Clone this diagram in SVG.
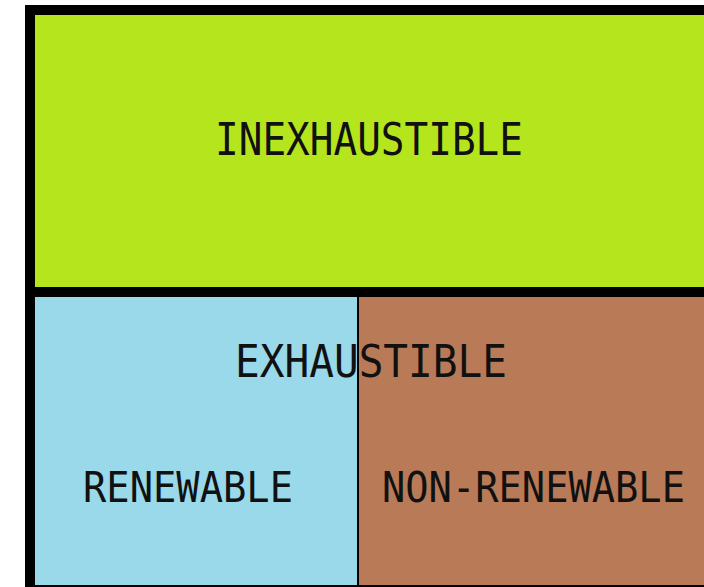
<svg xmlns="http://www.w3.org/2000/svg" width="704" height="587" viewBox="0 0 704 587">
<style>
.lbl{font-family:"DejaVu Sans Mono","Liberation Mono",monospace;fill:#111;text-anchor:start;}
</style>
<rect width="704" height="587" fill="#ffffff"/>
<g id="frame">
<rect x="25" y="5" width="679" height="582" fill="#000"/>
</g>
<g id="inexhaustible">
<rect x="35" y="15" width="669" height="272" fill="#b5e61d"/>
<text class="lbl" x="215" y="155" font-size="45" textLength="308" lengthAdjust="spacingAndGlyphs">INEXHAUSTIBLE</text>
</g>
<g id="renewable">
<rect x="35" y="297" width="322" height="288" fill="#99d9ea"/>
<text class="lbl" x="83" y="502" font-size="42" textLength="210" lengthAdjust="spacingAndGlyphs">RENEWABLE</text>
</g>
<g id="non-renewable">
<rect x="359" y="297" width="345" height="288" fill="#b97a57"/>
<text class="lbl" x="382" y="502" font-size="42" textLength="303" lengthAdjust="spacingAndGlyphs">NON-RENEWABLE</text>
</g>
<g id="exhaustible">
<text class="lbl" x="235" y="377" font-size="45" textLength="272" lengthAdjust="spacingAndGlyphs">EXHAUSTIBLE</text>
</g>
<g id="connectors"></g>
</svg>
